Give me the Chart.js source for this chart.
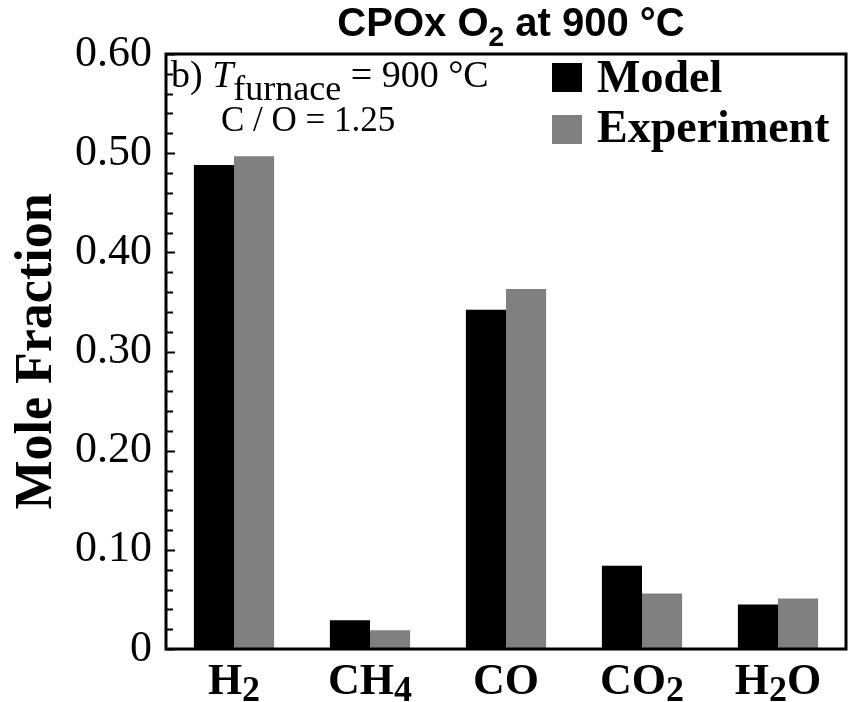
<!DOCTYPE html>
<html>
<head>
<meta charset="utf-8">
<script src="https://cdn.jsdelivr.net/npm/chart.js@4/dist/chart.umd.min.js"></script>
<style>
  html, body { margin: 0; padding: 0; background: #fff; }
  #wrap { width: 853px; height: 702px; }
</style>
</head>
<body>
<div id="wrap"><canvas id="molChart"></canvas></div>
<script>
const species = ['H2', 'CH4', 'CO', 'CO2', 'H2O'];
const modelFrac = [0.488, 0.029, 0.342, 0.084, 0.045];
const experimentFrac = [0.497, 0.019, 0.363, 0.056, 0.051];
const yLabels = [0, 0.10, 0.20, 0.30, 0.40, 0.50, 0.60];

const SERIF = "'Liberation Serif', 'Times New Roman', serif";
const SANS = "'Liberation Sans', Arial, sans-serif";

// draw a row of text runs (mixed fonts / subscripts) starting at x
function drawRich(ctx, parts, x, y, align) {
    let total = 0;
    parts.forEach(p => { ctx.font = p.font; total += ctx.measureText(p.text).width; });
    let cx = x;
    if (align === 'center') cx = x - total / 2;
    if (align === 'right') cx = x - total;
    ctx.textAlign = 'left';
    ctx.textBaseline = 'alphabetic';
    parts.forEach(p => {
        ctx.font = p.font;
        ctx.fillText(p.text, cx, y + (p.dy || 0));
        cx += ctx.measureText(p.text).width;
    });
}

// chemical formula -> runs, digits become subscripts
function formulaParts(label) {
    return label.match(/[A-Za-z]+|\d+/g).map(s => /\d/.test(s)
        ? { text: s, font: 'bold 36px ' + SERIF, dy: 7 }
        : { text: s, font: 'bold 44px ' + SERIF });
}

const decorations = {
    id: 'decorations',
    afterDraw(chart) {
        const ctx = chart.ctx;
        const area = chart.chartArea;
        const y = chart.scales.y;
        const x = chart.scales.x;
        ctx.save();
        ctx.fillStyle = '#000';
        ctx.strokeStyle = '#000';

        // inward ticks on the left axis
        ctx.lineWidth = 2;
        y.ticks.forEach(t => {
            const py = Math.round(y.getPixelForValue(t.value)) + 0.5;
            const major = yLabels.some(v => Math.abs(v - t.value) < 1e-6);
            ctx.beginPath();
            ctx.moveTo(area.left, py);
            ctx.lineTo(area.left + (major ? 9 : 7), py);
            ctx.stroke();
        });

        // box around the plot
        ctx.lineWidth = 3;
        ctx.strokeRect(area.left, area.top, area.right - area.left, area.bottom - area.top);

        // category labels
        species.forEach((s, i) => {
            drawRich(ctx, formulaParts(s), x.getPixelForValue(i), 694, 'center');
        });

        // title
        drawRich(ctx, [
            { text: 'CPOx O', font: 'bold 40px ' + SANS },
            { text: '2', font: 'bold 28px ' + SANS, dy: 10 },
            { text: ' at 900 °C', font: 'bold 40px ' + SANS }
        ], (area.left + area.right) / 2 + 5, 36, 'center');

        // conditions note
        drawRich(ctx, [
            { text: 'b) ', font: '38px ' + SERIF },
            { text: 'T', font: 'italic 38px ' + SERIF },
            { text: 'furnace', font: '36px ' + SERIF, dy: 13 },
            { text: ' = 900 °C', font: '38px ' + SERIF }
        ], area.left + 5, 87, 'left');
        drawRich(ctx, [{ text: 'C / O = 1.25', font: '35px ' + SERIF }], area.left + 55, 131, 'left');

        // legend
        const rows = [[92, 63], [142, 115]];
        chart.data.datasets.forEach((ds, i) => {
            ctx.fillStyle = ds.backgroundColor;
            ctx.fillRect(552, rows[i][1], 30, 29);
            ctx.fillStyle = '#000';
            drawRich(ctx, [{ text: ds.label, font: 'bold 46px ' + SERIF }], 597, rows[i][0], 'left');
        });
        ctx.restore();
    }
};

new Chart(document.getElementById('molChart'), {
    type: 'bar',
    data: {
        labels: species,
        datasets: [
            { label: 'Model', data: modelFrac, backgroundColor: '#000000' },
            { label: 'Experiment', data: experimentFrac, backgroundColor: '#808080' }
        ]
    },
    options: {
        animation: false,
        responsive: true,
        maintainAspectRatio: false,
        categoryPercentage: 0.59,
        barPercentage: 1.0,
        layout: { padding: { top: 54, right: 7, bottom: 0, left: 0 } },
        plugins: {
            legend: { display: false },
            title: { display: false },
            tooltip: { enabled: false }
        },
        scales: {
            x: {
                grid: { display: false },
                border: { display: false },
                ticks: { display: false },
                afterFit(scale) { scale.height = 53; }
            },
            y: {
                min: 0,
                max: 0.6,
                grid: { display: false, drawTicks: false },
                border: { display: false },
                ticks: {
                    stepSize: 0.02,
                    autoSkip: false,
                    padding: 14,
                    color: '#000',
                    font: { family: SERIF, size: 44 },
                    callback: v => {
                        const hit = yLabels.find(l => Math.abs(l - v) < 1e-6);
                        if (hit === undefined) return '';
                        return hit === 0 ? '0' : hit.toFixed(2);
                    }
                },
                title: {
                    display: true,
                    text: 'Mole Fraction',
                    color: '#000',
                    font: { family: SERIF, size: 52, weight: 'bold' },
                    padding: { top: 6, bottom: 0 }
                },
                afterFit(scale) { scale.width = 166; }
            }
        }
    },
    plugins: [decorations]
});
</script>
</body>
</html>
